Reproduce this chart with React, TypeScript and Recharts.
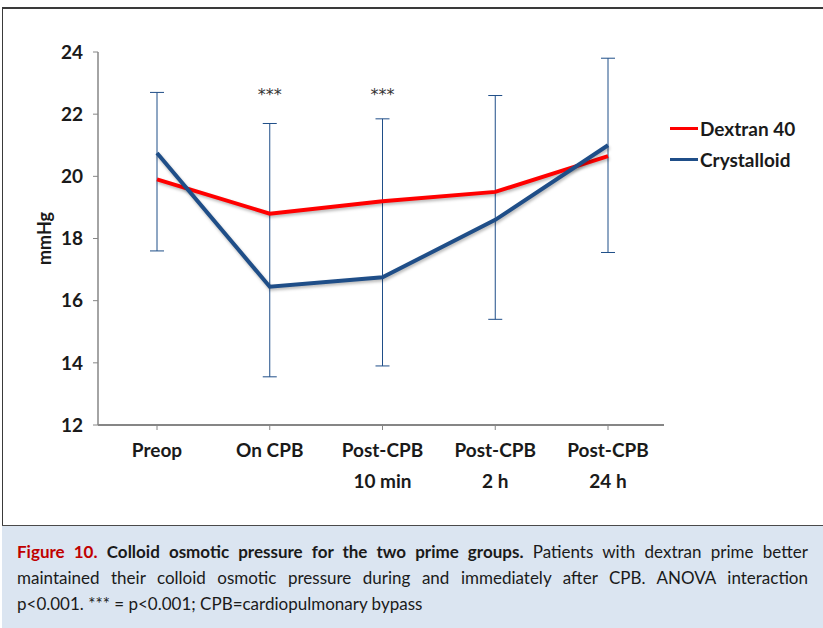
import React from "react";
import {
  LineChart,
  Line,
  XAxis,
  YAxis,
  ErrorBar,
  Legend,
  ReferenceDot,
} from "recharts";

// timepoints (\n = second line of the axis label)
const categories = [
  "Preop",
  "On CPB",
  "Post-CPB\n10 min",
  "Post-CPB\n2 h",
  "Post-CPB\n24 h",
];

// mean colloid osmotic pressure, mmHg
const dextran40 = [19.9, 18.8, 19.2, 19.5, 20.65];
const crystalloid = [20.75, 16.45, 16.75, 18.6, 21.0];

// error bar ends as drawn in the figure
const errLow = [17.6, 13.55, 13.9, 15.4, 17.55];
const errHigh = [22.7, 21.7, 21.85, 22.6, 23.8];

// significance marks
const sigMarks = ["", "***", "***", "", ""];
const sigLevel = 22.75;

const yTicks = [12, 14, 16, 18, 20, 22, 24];

const chartData = categories.map((name, i) => ({
  name,
  dextran: dextran40[i],
  crystalloid: crystalloid[i],
  errLow: errLow[i],
  errHigh: errHigh[i],
}));

const FONT = "Lato, 'Open Sans', sans-serif";
const RED = "#FF0000";
const BLUE = "#1F4E88";
const AXIS = "#868686";
const INK = "#1a1a1a";

const CategoryTick = (props: any) => {
  const { x, y, payload } = props;
  const lines = String(payload.value).split("\n");
  return (
    <text
      x={x}
      y={y}
      textAnchor="middle"
      fontFamily={FONT}
      fontWeight={700}
      fontSize={19}
      fill={INK}
    >
      {lines.map((l, i) => (
        <tspan key={i} x={x} dy={i === 0 ? 25 : 31}>
          {l}
        </tspan>
      ))}
    </text>
  );
};

const SigLabel = (props: any) => {
  const { viewBox, value } = props;
  const cx = viewBox.x + (viewBox.width || 0) / 2;
  const cy = viewBox.y + (viewBox.height || 0) / 2;
  return (
    <text
      x={cx}
      y={cy + 9}
      textAnchor="middle"
      fontFamily="'DejaVu Sans', sans-serif"
      fontSize={16}
      fill="#333"
    >
      {value}
    </text>
  );
};

const LegendContent = () => {
  const items = [
    { label: "Dextran 40", color: RED },
    { label: "Crystalloid", color: BLUE },
  ];
  return (
    <div style={{ fontFamily: FONT, fontWeight: 700, fontSize: 19, color: INK }}>
      {items.map((it) => (
        <div
          key={it.label}
          style={{ display: "flex", alignItems: "center", height: 31 }}
        >
          <span
            style={{
              display: "inline-block",
              width: 28,
              height: 3,
              background: it.color,
              marginRight: 2,
            }}
          />
          {it.label}
        </div>
      ))}
    </div>
  );
};

export default function App() {
  return (
    <div
      style={{
        position: "absolute",
        left: 0,
        top: 0,
        width: 823,
        height: 628,
        background: "#fff",
        overflow: "hidden",
      }}
    >
      <style>{`.series-line .recharts-line-curve { filter: drop-shadow(1px 2px 1.5px rgba(0,0,0,0.28)); }`}</style>
      {/* frame */}
      <div
        style={{
          position: "absolute",
          left: 2,
          top: 7,
          width: 830,
          height: 518,
          borderTop: "2px solid #3a3a3a",
          borderLeft: "1px solid #3a3a3a",
          boxSizing: "border-box",
        }}
      />
      <div style={{ position: "absolute", left: 0, top: 0 }}>
        <LineChart
          width={823}
          height={520}
          data={chartData}
          margin={{ top: 52, right: 9, bottom: 35, left: 0 }}
        >
          <XAxis
            dataKey="name"
            height={60}
            interval={0}
            padding={{ left: 59, right: 56 }}
            tick={<CategoryTick />}
            tickSize={5}
            tickMargin={2}
            axisLine={{ stroke: AXIS, strokeWidth: 2 }}
            tickLine={{ stroke: AXIS, strokeWidth: 1 }}
          />
          <YAxis
            width={98}
            domain={[12, 24]}
            ticks={yTicks}
            interval={0}
            tickSize={5}
            tickMargin={10}
            axisLine={{ stroke: AXIS, strokeWidth: 1.5 }}
            tickLine={{ stroke: AXIS, strokeWidth: 1 }}
            tick={{ fontFamily: FONT, fontWeight: 700, fontSize: 19, fill: INK }}
            label={{
              value: "mmHg",
              angle: -90,
              position: "center",
              dx: -4,
              style: {
                fontFamily: FONT,
                fontWeight: 700,
                fontSize: 18,
                fill: INK,
              },
            }}
          />
          <Legend
            layout="vertical"
            verticalAlign="top"
            align="right"
            content={<LegendContent />}
            wrapperStyle={{ left: 670, top: 113, width: 150 }}
          />
          {/* error bars ride on an invisible series at the lower end */}
          <Line
            dataKey="errLow"
            stroke="none"
            dot={false}
            activeDot={false}
            legendType="none"
            isAnimationActive={false}
          >
            <ErrorBar
              dataKey={(d: any) => [0, d.errHigh - d.errLow]}
              direction="y"
              width={7}
              stroke={BLUE}
              strokeWidth={1}
            />
          </Line>
          <Line
            className="series-line"
            dataKey="dextran"
            name="Dextran 40"
            stroke={RED}
            strokeWidth={4}
            dot={false}
            isAnimationActive={false}
          />
          <Line
            className="series-line"
            dataKey="crystalloid"
            name="Crystalloid"
            stroke={BLUE}
            strokeWidth={4}
            dot={false}
            isAnimationActive={false}
          />
          {categories.map((c, i) =>
            sigMarks[i] ? (
              <ReferenceDot
                key={c}
                x={c}
                y={sigLevel}
                r={0}
                ifOverflow="visible"
                label={<SigLabel value={sigMarks[i]} />}
              />
            ) : null
          )}
        </LineChart>
      </div>
      {/* caption */}
      <div
        style={{
          position: "absolute",
          left: 2,
          top: 525,
          width: 830,
          height: 110,
          background: "#DBE5F1",
          borderTop: "1px solid #4a4a4a",
          boxSizing: "border-box",
        }}
      />
      <div
        style={{
          position: "absolute",
          left: 17,
          top: 539,
          width: 791,
          fontFamily: FONT,
          fontSize: 17,
          lineHeight: "26px",
          color: INK,
          whiteSpace: "nowrap",
        }}
      >
        <div style={{ textAlign: "justify", textAlignLast: "justify" }}>
          <span style={{ color: "#C00000", fontWeight: 700 }}>Figure 10.</span>{" "}
          <b>Colloid osmotic pressure for the two prime groups.</b> Patients
          with dextran prime better
        </div>
        <div style={{ textAlign: "justify", textAlignLast: "justify" }}>
          maintained their colloid osmotic pressure during and immediately after
          CPB. ANOVA interaction
        </div>
        <div>p&lt;0.001. *** = p&lt;0.001; CPB=cardiopulmonary bypass</div>
      </div>
    </div>
  );
}
